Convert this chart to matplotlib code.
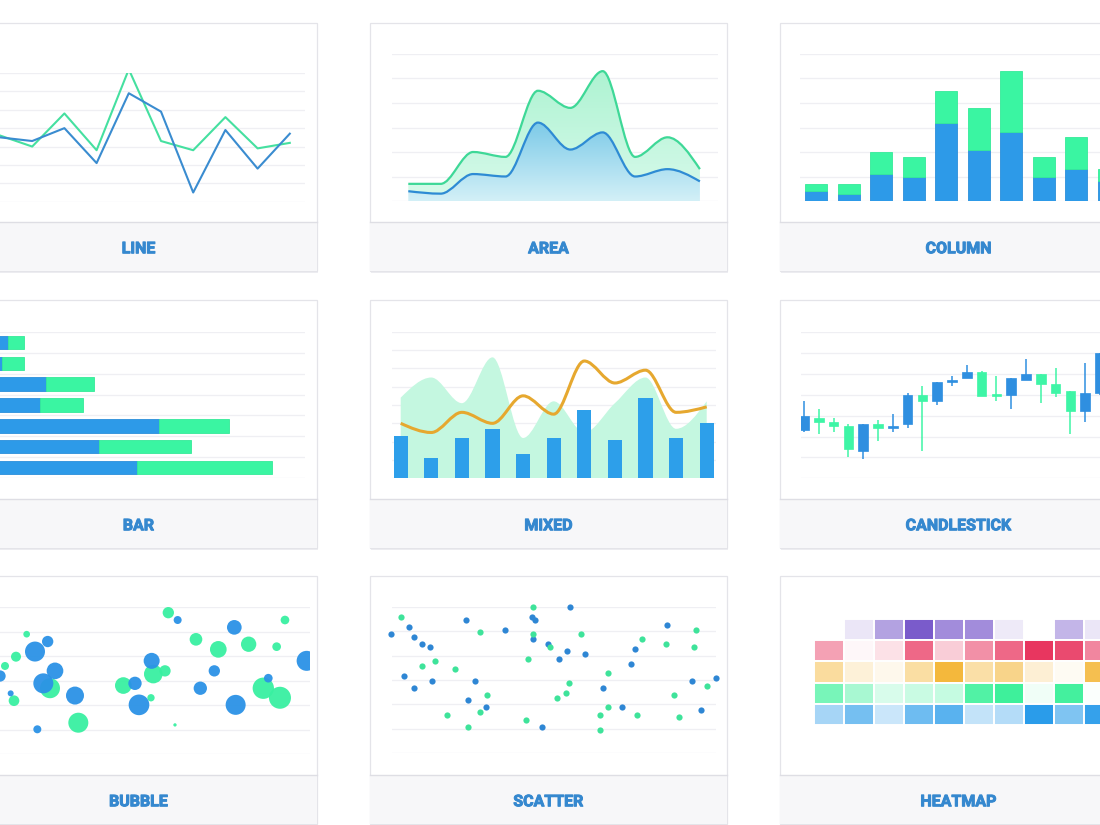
import numpy as np
import matplotlib
matplotlib.use("Agg")
import matplotlib.pyplot as plt
import matplotlib.patheffects as pe
from matplotlib.patches import Rectangle, PathPatch
from matplotlib.path import Path
from matplotlib.colors import LinearSegmentedColormap, to_rgb

    #========= DATA ======================================================#

LINE_GREEN = [36, 30, 48, 28, 72, 33, 28, 46, 29, 32]
LINE_BLUE = [35, 33, 40, 21, 59, 49, 5, 39, 18, 37]

# stacked series shared by area, column and bar cards
SERIES_BLUE = [4, 3, 11, 10, 32, 21, 28, 10, 13, 8]
SERIES_GREEN = [3, 4, 9, 8, 13, 17, 25, 8, 13, 5]
BAR_COUNT = 7

MIX_COLUMNS = [23, 11, 22, 27, 13, 22, 37, 21, 44, 22, 30]
MIX_AREA = [44, 55, 41, 66, 22, 42, 25, 41, 55, 27, 42]
MIX_LINE = [30, 25, 36, 30, 45, 35, 64, 52, 59, 36, 39]

CANDLE_OPEN = [23, 29, 27, 25, 13, 26, 24, 26, 40, 37, 46, 48, 51, 40, 40, 47, 50, 45, 42, 32, 41]
CANDLE_HIGH = [37, 33, 29, 26, 26, 28, 31, 41, 44, 46, 49, 54, 51.5, 49, 48, 57, 50, 53, 42, 55, 60]
CANDLE_LOW = [22, 21, 22, 10, 9, 18, 22, 24, 13, 35, 44, 48, 39.5, 37, 33, 47, 36, 39, 21, 27, 40]
CANDLE_CLOSE = [30, 27, 25, 14, 26, 24, 25, 40, 37, 46, 47, 51, 39.5, 39.5, 48, 50, 45, 41, 32, 41, 60]

BUBBLE_GREEN_X = [50.5, 8, 4.8, 1.5, 4.2, 15, 23.5, 37, 46, 49.5, 45.3, 52.5, 58.8, 65.5, 74.6, 83, 85.5, 79, 84]
BUBBLE_GREEN_Y = [57.8, 49, 39.8, 36, 21.8, 26.9, 12.8, 28, 32.7, 34, 23, 11.9, 46.9, 42.8, 44.9, 43.9, 54.8, 26.9, 23]
BUBBLE_GREEN_Z = [17, 10, 15, 12, 16, 30, 30, 25, 28, 17, 11, 5, 19, 25, 23, 13, 13, 32, 33]
BUBBLE_BLUE_X = [53.3, 14.3, 10.5, 0, 3.2, 13, 16.5, 22.5, 11.2, 45.5, 40.5, 41.7, 70.3, 64.3, 60.1, 70.7, 80.5, 92]
BUBBLE_BLUE_Y = [54.8, 46, 41.9, 31.9, 24.8, 28.9, 34, 23.9, 10.1, 38.1, 28.9, 20.1, 51.8, 34, 26.9, 20.1, 31, 38.1]
BUBBLE_BLUE_Z = [12, 17, 30, 17, 9, 30, 25, 27, 12, 24, 20, 31, 22, 17, 20, 30, 13, 30]

SCATTER_BLUE_X = [7.8, 13.3, 14.7, 17, 19.6, 11.8, 14.6, 20, 30.2, 33.1, 30.8, 36.4, 42, 50, 51.1,
                  50.5, 54.8, 58.2, 60.5, 61.5, 66, 53, 71.4, 77, 79.7, 81.1, 90.7, 98.2, 100.8, 105.4]
SCATTER_BLUE_Y = [48.9, 51.8, 47.7, 44.8, 43.7, 31.8, 26.7, 29.7, 54.8, 29.7, 21.8, 18.8, 50.7, 55.8, 54.8,
                  46.8, 44.8, 38.8, 41.8, 59.9, 40.7, 10.7, 26.7, 18.8, 36.7, 42.7, 52.7, 29.7, 17.7, 30.8]
SCATTER_GREEN_X = [10.7, 17, 20.9, 27, 24.7, 30.8, 34.5, 36.6, 34.5, 49, 50.5, 50.3, 55.5, 57.7, 60.2,
                   61.3, 64.7, 48.3, 72.8, 72.9, 70.6, 70.6, 81.6, 83.1, 90.2, 92.8, 94.2, 99.3, 98.8, 102.5]
SCATTER_GREEN_Y = [55.8, 35.6, 37.8, 34.7, 15.8, 10.7, 49.7, 23.7, 16.7, 38.8, 59.9, 48.9, 43.7, 22.7, 24.7,
                   28.8, 48.8, 13.7, 32.7, 18.8, 15.8, 9.6, 15.8, 46.8, 44.8, 23.7, 14.7, 50.7, 43.7, 27.7]

HEAT_PURPLE = [0, 15, 57, 100, 70, 70, 13, 0, 45, 15]
HEAT_PINK = [47, 4, 15, 75, 25, 55, 75, 100, 90, 60]
HEAT_ORANGE = [50, 20, 10, 47, 100, 45, 60, 22, 6, 90]
HEAT_GREEN = [70, 45, 20, 28, 30, 90, 100, 8, 97, 2]
HEAT_BLUE = [42, 65, 25, 68, 78, 28, 35, 100, 60, 95]

LABELS = [["LINE", "AREA", "COLUMN"], ["BAR", "MIXED", "CANDLESTICK"], ["BUBBLE", "SCATTER", "HEATMAP"]]

    #========= STYLE =====================================================#

W, H = 1100, 825
COL_X = [-40, 370, 780]
ROW_Y = [23, 300, 576]
CARD_W, PLOT_H, BAND_H = 357, 199, 48.5

BLUE = "#2d9ae8"
GREEN = "#3af5a2"
GRID = "#efeff3"
LABEL_COLOR = "#3588cf"

    #========= HELPERS ===================================================#

fig = plt.figure(figsize=(11, 8.25), dpi=100)
bg = fig.add_axes([0, 0, 1, 1])
bg.set_xlim(0, W)
bg.set_ylim(H, 0)
bg.axis("off")


def chart_axes(x0, y0, x1, y1):
    ax = fig.add_axes([x0 / W, 1 - y1 / H, (x1 - x0) / W, (y1 - y0) / H])
    ax.axis("off")
    return ax


def index_limits(ax_left, ax_right, first_px, step_px):
    return (ax_left - first_px) / step_px, (ax_right - first_px) / step_px


def grid(ax, levels):
    for v in levels:
        ax.axhline(v, color=GRID, lw=0.9, zorder=0)


def tangents(x, y):
    x = np.asarray(x, float)
    y = np.asarray(y, float)
    h = np.diff(x)
    s = np.diff(y) / h
    m = np.zeros_like(y)
    for i in range(1, len(y) - 1):
        p = (s[i - 1] * h[i] + s[i] * h[i - 1]) / (h[i - 1] + h[i])
        m[i] = (np.sign(s[i - 1]) + np.sign(s[i])) * min(abs(s[i - 1]), abs(s[i]), 0.5 * abs(p))
    m[0] = (3 * s[0] - m[1]) / 2
    m[-1] = (3 * s[-1] - m[-2]) / 2
    return m


def smooth_verts(x, y):
    m = tangents(x, y)
    verts = [(x[0], y[0])]
    for i in range(len(x) - 1):
        d = (x[i + 1] - x[i]) / 3
        verts += [(x[i] + d, y[i] + m[i] * d), (x[i + 1] - d, y[i + 1] - m[i + 1] * d), (x[i + 1], y[i + 1])]
    return np.array(verts, float)


def curve_path(x, y):
    v = smooth_verts(x, y)
    return Path(v, [Path.MOVETO] + [Path.CURVE4] * (len(v) - 1))


def band_path(x, top, bottom=None):
    vt = smooth_verts(x, top)
    codes = [Path.MOVETO] + [Path.CURVE4] * (len(vt) - 1)
    if bottom is None:
        vb = np.array([(x[-1], 0), (x[0], 0)], float)
        codes += [Path.LINETO, Path.LINETO]
    else:
        vb = smooth_verts(x, bottom)[::-1]
        codes += [Path.LINETO] + [Path.CURVE4] * (len(vb) - 1)
    verts = np.vstack([vt, vb, vt[:1]])
    return Path(verts, codes + [Path.CLOSEPOLY])


def gradient_fill(ax, path, top_color, bottom_color, extent, z):
    patch = PathPatch(path, facecolor="none", edgecolor="none")
    ax.add_patch(patch)
    cmap = LinearSegmentedColormap.from_list("grad", [bottom_color, top_color])
    im = ax.imshow(np.linspace(0, 1, 256).reshape(-1, 1), extent=extent, origin="lower",
                   aspect="auto", cmap=cmap, zorder=z)
    im.set_clip_path(patch)


def tint(color, value):
    a = value / 100.0
    r, g, b = to_rgb(color)
    return (1 - a + a * r, 1 - a + a * g, 1 - a + a * b)

    #========= CARDS =====================================================#

for r, top in enumerate(ROW_Y):
    for c, left in enumerate(COL_X):
        bg.add_patch(Rectangle((left + 1, top + 2), CARD_W, PLOT_H + BAND_H, facecolor="#eeeef2",
                               edgecolor="none", zorder=0))
        bg.add_patch(Rectangle((left, top), CARD_W, PLOT_H + BAND_H, facecolor="white",
                               edgecolor="#e4e4e9", lw=0.9, zorder=1))
        bg.add_patch(Rectangle((left, top + PLOT_H), CARD_W, BAND_H, facecolor="#f7f7f9",
                               edgecolor="none", zorder=2))
        bg.plot([left, left + CARD_W], [top + PLOT_H, top + PLOT_H], color="#dedee4", lw=1, zorder=3)
        bg.text(left + CARD_W / 2, top + PLOT_H + BAND_H / 2 + 2.5, LABELS[r][c], ha="center", va="center",
                fontsize=11.5, fontweight="bold", color=LABEL_COLOR, family=["Roboto", "DejaVu Sans"],
                zorder=4, path_effects=[pe.withStroke(linewidth=0.7, foreground=LABEL_COLOR)])

    #========= LINE ======================================================#

ax = chart_axes(-18, 73, 305, 201.7)
grid(ax, range(0, 71, 10))
x = np.arange(len(LINE_GREEN))
ax.plot(x, LINE_GREEN, color="#45e0a0", lw=1.5, zorder=2)
ax.plot(x, LINE_BLUE, color="#3a8cd0", lw=1.5, zorder=3)
ax.set_xlim(*index_limits(-18, 305, 0, 32.2))
ax.set_ylim(0, 70)

    #========= AREA ======================================================#

ax = chart_axes(392, 54, 718, 201)
grid(ax, range(0, 61, 10))
x = np.arange(len(SERIES_BLUE))
total = np.add(SERIES_BLUE, SERIES_GREEN)
gradient_fill(ax, band_path(x, total, SERIES_BLUE), "#aef3d2", "#d8faeb", [x[0], x[-1], 0, max(total)], 1)
gradient_fill(ax, band_path(x, SERIES_BLUE), "#7ccae8", "#d3f0f7", [x[0], x[-1], 0, max(SERIES_BLUE)], 1)
ax.add_patch(PathPatch(curve_path(x, total), facecolor="none", edgecolor="#3ed897", lw=1.6, zorder=3))
ax.add_patch(PathPatch(curve_path(x, SERIES_BLUE), facecolor="none", edgecolor="#2e8bd4", lw=1.6, zorder=3))
ax.set_xlim(*index_limits(392, 718, 408.3, 32.4))
ax.set_ylim(0, 60)

    #========= COLUMN ====================================================#

ax = chart_axes(800, 54, 1126, 201)
grid(ax, range(0, 61, 10))
x = np.arange(len(SERIES_BLUE))
ax.bar(x, SERIES_BLUE, width=0.68, color=BLUE, edgecolor="#2a8fdb", lw=0.6, zorder=2)
ax.bar(x, SERIES_GREEN, bottom=SERIES_BLUE, width=0.68, color=GREEN, edgecolor="#35ea99", lw=0.6, zorder=2)
ax.set_xlim(*index_limits(800, 1126, 816.3, 32.5))
ax.set_ylim(0, 60)

    #========= BAR =======================================================#

ax = chart_axes(-18, 332, 305, 478)
y = np.arange(BAR_COUNT)
for v in np.arange(-0.5, BAR_COUNT, 1.0):
    ax.axhline(v, color=GRID, lw=0.9, zorder=0)
ax.barh(y, SERIES_BLUE[:BAR_COUNT], height=0.64, color=BLUE, edgecolor="#2a8fdb", lw=0.6, zorder=2)
ax.barh(y, SERIES_GREEN[:BAR_COUNT], left=SERIES_BLUE[:BAR_COUNT], height=0.64, color=GREEN,
        edgecolor="#35ea99", lw=0.6, zorder=2)
ax.set_xlim((-18 + 13.7) / 5.39, (305 + 13.7) / 5.39)
ax.set_ylim(BAR_COUNT - 0.5, -0.5)

    #========= MIXED =====================================================#

ax = chart_axes(392, 331.7, 716, 478.3)
grid(ax, range(0, 81, 10))
x = np.arange(len(MIX_COLUMNS))
ax.add_patch(PathPatch(band_path(x, MIX_AREA), facecolor="#c4f7e0", edgecolor="none", zorder=1))
ax.bar(x, MIX_COLUMNS, width=0.46, color="#2d9fea", zorder=2)
ax.add_patch(PathPatch(curve_path(x, MIX_LINE), facecolor="none", edgecolor="#e6a82f", lw=2.2, zorder=3))
ax.set_xlim(*index_limits(392, 716, 400.7, 30.6))
ax.set_ylim(0, 80)

    #========= CANDLESTICK ===============================================#

ax = chart_axes(801, 332, 1126, 478.3)
grid(ax, range(0, 71, 10))
for i in range(len(CANDLE_OPEN)):
    o, h, l, c = CANDLE_OPEN[i], CANDLE_HIGH[i], CANDLE_LOW[i], CANDLE_CLOSE[i]
    col = "#2f8fe0" if c >= o else "#3ef5a6"
    ax.vlines(i, l, h, color=col, lw=1.1, zorder=2)
    lo, hi = min(o, c), max(o, c)
    ax.add_patch(Rectangle((i - 0.32, lo), 0.64, max(hi - lo, 0.7), facecolor=col, edgecolor=col,
                           lw=0.5, zorder=3))
ax.set_xlim(*index_limits(801, 1126, 804, 14.8))
ax.set_ylim(0, 70)

    #========= BUBBLE ====================================================#

ax = chart_axes(-18, 607.3, 310, 754)
grid(ax, range(0, 61, 10))
size = lambda z: (np.asarray(z) * 2 / 3 * 0.72) ** 2
ax.scatter(BUBBLE_GREEN_X, BUBBLE_GREEN_Y, s=size(BUBBLE_GREEN_Z), color="#39f0a1", alpha=0.95, lw=0, zorder=2)
ax.scatter(BUBBLE_BLUE_X, BUBBLE_BLUE_Y, s=size(BUBBLE_BLUE_Z), color="#2b92e6", alpha=0.95, lw=0, zorder=3)
ax.set_xlim(-18 / 3.333, 310 / 3.333)
ax.set_ylim(0, 60)

    #========= SCATTER ===================================================#

ax = chart_axes(392, 607, 716, 753)
grid(ax, range(0, 61, 10))
ax.scatter(SCATTER_BLUE_X, SCATTER_BLUE_Y, s=20, color="#2e86d4", lw=0, zorder=2, clip_on=False)
ax.scatter(SCATTER_GREEN_X, SCATTER_GREEN_Y, s=20, color="#3ee39a", lw=0, zorder=3, clip_on=False)
ax.set_xlim((392 - 365) / 3.333, (716 - 365) / 3.333)
ax.set_ylim(0, 60)

    #========= HEATMAP ===================================================#

ax = chart_axes(814, 619, 1114, 725)
heat = [(HEAT_PURPLE, "#7a5bcb"), (HEAT_PINK, "#e8365f"), (HEAT_ORANGE, "#f4b83c"),
        (HEAT_GREEN, "#3ef09b"), (HEAT_BLUE, "#2a9cea")]
for r, (values, base) in enumerate(heat):
    for c, v in enumerate(values):
        ax.add_patch(Rectangle((c, r), 1, 1, facecolor=tint(base, v), edgecolor="white", lw=1.4))
ax.set_xlim(0, 10)
ax.set_ylim(len(heat), 0)

fig.savefig("out.png", dpi=100)
